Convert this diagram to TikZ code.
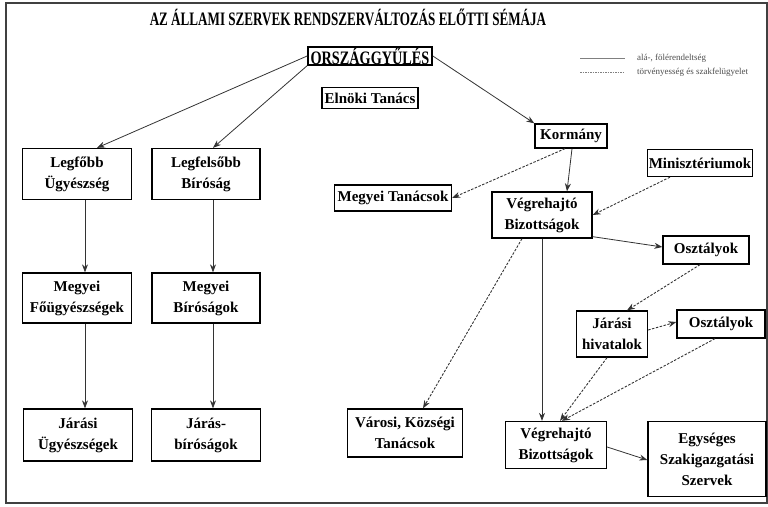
\documentclass[tikz,border=0pt]{standalone}
\usepackage{fontspec}
\setmainfont{Liberation Serif}
\usetikzlibrary{arrows.meta}

\begin{document}
\begin{tikzpicture}[x=1pt,y=-1pt,>={Stealth[length=8pt,width=6pt]},
    box/.style={draw,line width=1.3pt,align=center,inner sep=1pt,
      font=\fontsize{15}{21}\selectfont\bfseries},
    rel/.style={->,black!80,line width=0.8pt},
    ctrl/.style={->,black!80,line width=0.9pt,dash pattern=on 2.5pt off 1.5pt}]
    \useasboundingbox (0,0) rectangle (768,506);
    \draw[line width=1.4pt,black!75] (6,3) rectangle (767,503);
    \node (title) at (348,17)
      {\scalebox{0.69}[1]{\fontsize{19}{19}\selectfont\bfseries AZ ÁLLAMI SZERVEK RENDSZERVÁLTOZÁS ELŐTTI SÉMÁJA}};
    % jelmagyarazat
    \coordinate (la) at (580,58);
    \coordinate (lb) at (625,58);
    \coordinate (lc) at (580,72);
    \coordinate (ld) at (625,72);
    \draw[gray,line width=0.6pt] (la) -- (lb);
    \draw[gray,line width=0.6pt,dash pattern=on 1.5pt off 1pt] (lc) -- (ld);
    \node[anchor=west,inner sep=0pt,gray!60!black,font=\fontsize{9}{9}\selectfont] (lt1) at (637,58) {alá-, fölérendeltség};
    \node[anchor=west,inner sep=0pt,gray!60!black,font=\fontsize{9}{9}\selectfont] (lt2) at (637,72) {törvényesség és szakfelügyelet};

    \node[box,line width=1.7pt,inner sep=0.5pt,minimum width=124,minimum height=17] (orsz) at (370,56)
      {\scalebox{0.75}[1]{\fontsize{19}{19}\selectfont ORSZÁGGYŰLÉS}};
    \node[box,minimum width=96,minimum height=21] (elnoki) at (370,98) {Elnöki Tanács};
    \node[box,minimum width=109,minimum height=51] (lfu) at (77,174) {Legfőbb\\Ügyészség};
    \node[box,minimum width=108,minimum height=51] (lfb) at (206,174) {Legfelsőbb\\Bíróság};
    \node[box,minimum width=109,minimum height=50] (mfu) at (77,298) {Megyei\\Főügyészségek};
    \node[box,minimum width=108,minimum height=50] (mb) at (206,298) {Megyei\\Bíróságok};
    \node[box,minimum width=109,minimum height=52] (ju) at (78,435) {Járási\\Ügyészségek};
    \node[box,minimum width=109,minimum height=52] (jb) at (206,435) {Járás-\\bíróságok};
    \node[box,minimum width=115,minimum height=48] (vkt) at (405,433) {Városi, Községi\\Tanácsok};
    \node[box,minimum width=72,minimum height=24] (korm) at (571,136) {Kormány};
    \node[box,minimum width=105,minimum height=27] (minis) at (700,163) {Minisztériumok};
    \node[box,minimum width=117,minimum height=26] (mt) at (393,198) {Megyei Tanácsok};
    \node[box,minimum width=100,minimum height=46] (vb1) at (542,215) {Végrehajtó\\Bizottságok};
    \node[box,minimum width=86,minimum height=28] (oszt1) at (706,250) {Osztályok};
    \node[box,minimum width=71,minimum height=46] (jh) at (612,334) {Járási\\hivatalok};
    \node[box,minimum width=88,minimum height=28] (oszt2) at (721,324) {Osztályok};
    \node[box,minimum width=101,minimum height=47] (vb2) at (556,445) {Végrehajtó\\Bizottságok};
    \node[box,minimum width=118,minimum height=75] (egys) at (707,459) {Egységes\\Szakigazgatási\\Szervek};

    \draw[rel] (orsz.west) -- ([xshift=20pt]lfu.north);
    \draw[rel] (orsz.south west) -- ([xshift=7pt]lfb.north);
    \draw[rel] (orsz.east) -- (korm.north west);
    \draw[rel] ([xshift=8pt]lfu.south) -- ([xshift=8pt]mfu.north);
    \draw[rel] ([xshift=7pt]lfb.south) -- ([xshift=7pt]mb.north);
    \draw[rel] ([xshift=8pt]mfu.south) -- ([xshift=7pt]ju.north);
    \draw[rel] ([xshift=7pt]mb.south) -- ([xshift=7pt]jb.north);
    \draw[ctrl] ([xshift=-6pt]korm.south) -- (mt.east);
    \draw[rel] ([xshift=1pt]korm.south) -- ([xshift=25pt]vb1.north);
    \draw[ctrl] ([xshift=-30pt]minis.south) -- (vb1.east);
    \draw[rel] ([yshift=2pt]vb1.south east) -- ([yshift=3pt]oszt1.west);
    \draw[ctrl] ([xshift=-6pt]oszt1.south) -- ([xshift=15pt]jh.north);
    \draw[ctrl] ([yshift=4pt]jh.east) -- ([yshift=2pt]oszt2.west);
    \draw[ctrl] ([xshift=-5pt]jh.south) -- ([xshift=4pt]vb2.north);
    \draw[ctrl] ([xshift=-6pt]oszt2.south) -- ([xshift=6pt]vb2.north);
    \draw[rel] (vb1.south) -- ([xshift=-14pt]vb2.north);
    \draw[ctrl] ([xshift=-20pt]vb1.south) -- ([xshift=18pt]vkt.north);
    \draw[rel] ([yshift=-2pt]vb2.east) -- ([yshift=-1pt]egys.west);
\end{tikzpicture}
\end{document}
